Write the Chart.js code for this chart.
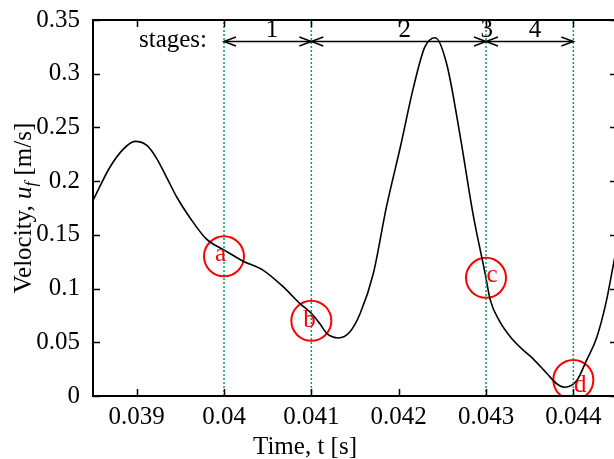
<!DOCTYPE html>
<html lang="en">
<head>
    <meta charset="UTF-8">
    <title>Velocity u_f vs time</title>
    <script src="https://cdn.jsdelivr.net/npm/chart.js"></script>
    <style>
        html, body { margin: 0; padding: 0; background: #fff; overflow: hidden; }
        #wrap { width: 614px; height: 459px; overflow: hidden; }
    </style>
</head>
<body>
    <div id="wrap">
        <canvas id="velChart" width="630" height="459"></canvas>
    </div>

    <script>
        // curve: time [s] and velocity u_f [m/s]
        const timeS = [0.03850, 0.03869, 0.03885, 0.03898, 0.03912, 0.03923, 0.03934, 0.03946, 0.03961, 0.03980,
                       0.04000, 0.04022, 0.04045, 0.04068, 0.04087, 0.04100, 0.04110, 0.04118, 0.04131, 0.04144,
                       0.04156, 0.04171, 0.04186, 0.04202, 0.04217, 0.04230, 0.04242, 0.04255, 0.04270, 0.04285,
                       0.04299, 0.04305, 0.04316, 0.04328, 0.04343, 0.04354, 0.04370, 0.04381, 0.04390, 0.04404,
                       0.04415, 0.04427, 0.04438, 0.04446, 0.04450];
        const velocity = [0.182, 0.2125, 0.230, 0.237, 0.233, 0.221, 0.204, 0.185, 0.166, 0.146,
                          0.136, 0.1255, 0.117, 0.1015, 0.086, 0.077, 0.067, 0.058, 0.054, 0.0595,
                          0.077, 0.114, 0.176, 0.232, 0.2875, 0.325, 0.3335, 0.309, 0.244, 0.170,
                          0.114, 0.089, 0.069, 0.055, 0.0424, 0.0346, 0.0207, 0.0114, 0.0082, 0.0144,
                          0.033, 0.055, 0.089, 0.123, 0.14];

        // stage boundaries (dotted lines) and stage labels
        const stageBounds = [0.040, 0.041, 0.043, 0.044];
        const stageNames = ['1', '2', '3', '4'];
        const stageNameTimes = [0.04055, 0.04207, 0.04301, 0.04356];
        const stageArrowVel = 0.33;

        // circled points a-d
        const markNames = ['a', 'b', 'c', 'd'];
        const markTimes = [0.040, 0.041, 0.043, 0.044];
        const markVels = [0.13, 0.07, 0.11, 0.015];
        const markTextTimes = [0.03996, 0.04098, 0.04307, 0.04408];
        const markTextVels = [0.126, 0.064, 0.106, 0.004];

        // axes
        const xTicks = [0.039, 0.040, 0.041, 0.042, 0.043, 0.044];
        const xTickLabels = ['0.039', '0.04', '0.041', '0.042', '0.043', '0.044'];
        const yTicks = [0, 0.05, 0.10, 0.15, 0.20, 0.25, 0.30, 0.35];
        const yTickLabels = ['0', '0.05', '0.1', '0.15', '0.2', '0.25', '0.3', '0.35'];

        const serif = '"Liberation Serif", "DejaVu Serif", serif';
        const green = '#009e73';
        const red = '#ff0000';

        const datasets = [];
        stageBounds.forEach(b => {
            datasets.push({
                data: [{ x: b, y: 0 }, { x: b, y: 0.35 }],
                borderColor: green,
                borderWidth: 1.5,
                borderDash: [2, 2],
                pointRadius: 0,
                clip: 0
            });
        });
        datasets.push({
            data: timeS.map((t, i) => ({ x: t, y: velocity[i] })),
            borderColor: '#000',
            borderWidth: 1.6,
            pointRadius: 0,
            cubicInterpolationMode: 'monotone',
            clip: 0
        });
        datasets.push({
            data: markTimes.map((t, i) => ({ x: t, y: markVels[i] })),
            showLine: false,
            pointStyle: 'circle',
            pointRadius: 20,
            pointBorderColor: red,
            pointBackgroundColor: 'rgba(0,0,0,0)',
            pointBorderWidth: 2,
            clip: 0
        });
        const circleIndex = datasets.length - 1;

        function arrowHead(ctx, x, y, dir) {
            ctx.beginPath();
            ctx.moveTo(x - dir * 12, y - 4.5);
            ctx.lineTo(x, y);
            ctx.lineTo(x - dir * 12, y + 4.5);
            ctx.stroke();
        }

        const overlay = {
            id: 'overlay',
            afterDatasetsDraw(chart) {
                const { ctx, chartArea: a, scales: { x, y } } = chart;
                ctx.save();

                // stage arrows
                const ay = y.getPixelForValue(stageArrowVel);
                ctx.strokeStyle = '#000';
                ctx.lineWidth = 1.5;
                for (let i = 0; i < stageBounds.length - 1; i++) {
                    const x0 = x.getPixelForValue(stageBounds[i]);
                    const x1 = x.getPixelForValue(stageBounds[i + 1]);
                    ctx.beginPath();
                    ctx.moveTo(x0, ay);
                    ctx.lineTo(x1, ay);
                    ctx.stroke();
                    arrowHead(ctx, x0, ay, -1);
                    arrowHead(ctx, x1, ay, 1);
                }

                ctx.fillStyle = '#000';
                ctx.font = '25px ' + serif;
                ctx.textBaseline = 'alphabetic';
                ctx.textAlign = 'right';
                ctx.fillText('stages:', x.getPixelForValue(stageBounds[0]) - 17, ay + 6);
                ctx.textAlign = 'center';
                stageNames.forEach((s, i) => {
                    ctx.fillText(s, x.getPixelForValue(stageNameTimes[i]), a.top + 17);
                });

                // letters in the circles
                ctx.fillStyle = red;
                markNames.forEach((m, i) => {
                    ctx.fillText(m, x.getPixelForValue(markTextTimes[i]), y.getPixelForValue(markTextVels[i]));
                });
                ctx.restore();
            },
            afterDraw(chart) {
                const { ctx, chartArea: a, scales: { x, y } } = chart;
                ctx.save();
                ctx.strokeStyle = '#000';

                // inward ticks on all four sides
                ctx.lineWidth = 1.5;
                ctx.beginPath();
                xTicks.forEach(v => {
                    const px = Math.round(x.getPixelForValue(v)) + 0.5;
                    ctx.moveTo(px, a.bottom); ctx.lineTo(px, a.bottom - 7);
                    ctx.moveTo(px, a.top); ctx.lineTo(px, a.top + 7);
                });
                yTicks.forEach(v => {
                    const py = Math.round(y.getPixelForValue(v)) + 0.5;
                    ctx.moveTo(a.left, py); ctx.lineTo(a.left + 7, py);
                    ctx.moveTo(a.right, py); ctx.lineTo(a.right - 7, py);
                });
                ctx.stroke();

                // frame
                ctx.lineWidth = 2;
                ctx.strokeRect(a.left, a.top, a.right - a.left, a.bottom - a.top);

                // x title
                ctx.fillStyle = '#000';
                ctx.font = '25px ' + serif;
                ctx.textAlign = 'center';
                ctx.textBaseline = 'alphabetic';
                ctx.fillText('Time, t [s]', 305, 454);

                // y title with italic u_f
                const parts = [
                    { t: 'Velocity, ', f: '25px ' + serif, dy: 0 },
                    { t: 'u', f: 'italic 25px ' + serif, dy: 0 },
                    { t: 'f', f: 'italic 17px ' + serif, dy: 5 },
                    { t: ' [m/s]', f: '25px ' + serif, dy: 0 }
                ];
                let total = 0;
                parts.forEach(p => { ctx.font = p.f; p.w = ctx.measureText(p.t).width; total += p.w; });
                ctx.translate(31, (a.top + a.bottom) / 2);
                ctx.rotate(-Math.PI / 2);
                ctx.textAlign = 'left';
                let cx = -total / 2;
                parts.forEach(p => {
                    ctx.font = p.f;
                    ctx.fillText(p.t, cx, p.dy);
                    cx += p.w;
                });
                ctx.restore();
            }
        };

        const ctx = document.getElementById('velChart').getContext('2d');
        const velChart = new Chart(ctx, {
            type: 'line',
            data: { datasets },
            options: {
                responsive: false,
                animation: false,
                events: [],
                layout: { padding: { left: 0, right: 13, top: 20, bottom: 0 } },
                plugins: { legend: { display: false }, tooltip: { enabled: false } },
                scales: {
                    x: {
                        type: 'linear',
                        min: 0.0385,
                        max: 0.0445,
                        grid: { display: false, drawTicks: false, tickLength: 0 },
                        border: { display: false },
                        afterBuildTicks: s => { s.ticks = xTicks.map(v => ({ value: v })); },
                        afterFit: s => { s.height = 63; s.paddingLeft = 0; s.paddingRight = 0; },
                        ticks: {
                            autoSkip: false,
                            maxRotation: 0,
                            padding: 6,
                            color: '#000',
                            font: { family: serif, size: 25 },
                            callback: (v, i) => xTickLabels[i]
                        }
                    },
                    y: {
                        type: 'linear',
                        min: 0,
                        max: 0.35,
                        grid: { display: false, drawTicks: false, tickLength: 0 },
                        border: { display: false },
                        afterBuildTicks: s => { s.ticks = yTicks.map(v => ({ value: v })); },
                        afterFit: s => { s.width = 93; s.paddingTop = 0; s.paddingBottom = 0; },
                        ticks: {
                            autoSkip: false,
                            padding: 13,
                            color: '#000',
                            font: { family: serif, size: 25 },
                            callback: (v, i) => yTickLabels[i]
                        }
                    }
                }
            },
            plugins: [overlay]
        });

        // the big marker circles should not push the plot area inwards
        velChart.getDatasetMeta(circleIndex).controller.getMaxOverflow = () => false;
        velChart.update();
    </script>
</body>
</html>
